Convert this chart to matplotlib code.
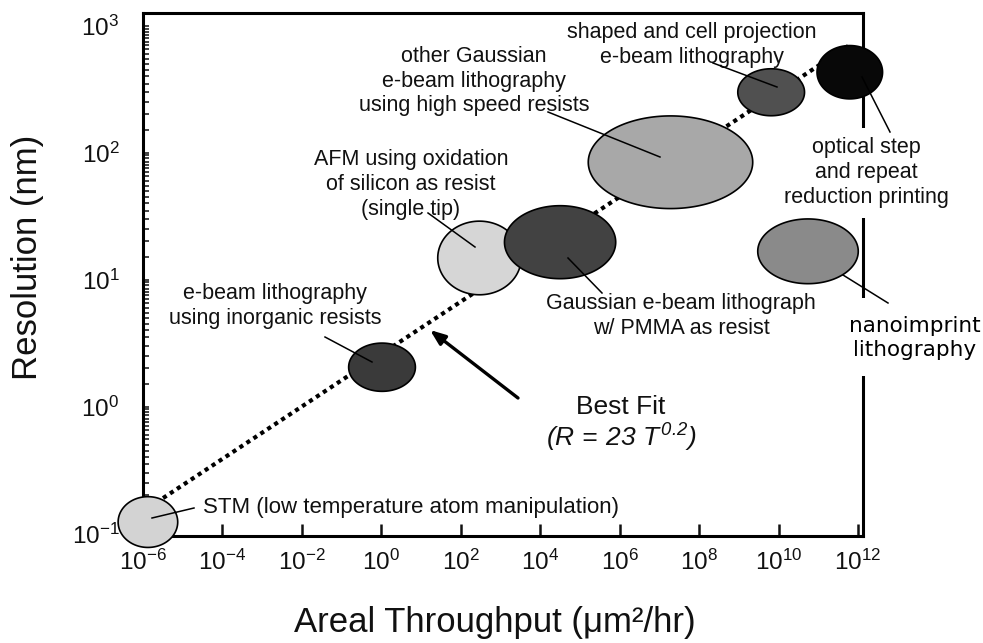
import numpy as np
import matplotlib.pyplot as plt
from matplotlib.ticker import LogLocator, NullLocator, NullFormatter
from matplotlib.lines import Line2D
from matplotlib.patches import Rectangle

plt.rcParams['font.family'] = ['Liberation Sans', 'DejaVu Sans']
plt.rcParams['mathtext.fontset'] = 'custom'
plt.rcParams['mathtext.rm'] = 'Liberation Sans'
plt.rcParams['mathtext.it'] = 'Liberation Sans:italic'
plt.rcParams['mathtext.sf'] = 'Liberation Sans:italic'
plt.rcParams['mathtext.bf'] = 'Liberation Sans:bold'

# lithography techniques: centre of each blob and its extent in decades
techniques = ['STM', 'e-beam inorganic', 'AFM oxidation', 'Gaussian PMMA',
              'other Gaussian', 'shaped/cell projection', 'optical step+repeat',
              'nanoimprint']
throughput = [1.33e-6, 1.04, 2.95e2, 3.16e4, 1.9e7, 6.5e9, 6.2e11, 5.5e10]   # um^2/hr
resolution = [0.123, 2.04, 14.8, 19.7, 84.0, 299.0, 430.0, 16.7]          # nm
thr_decades = [1.5, 1.68, 2.1, 2.8, 4.14, 1.68, 1.65, 2.53]
res_decades = [0.40, 0.38, 0.58, 0.575, 0.73, 0.37, 0.42, 0.51]
greys = ['#d3d3d3', '#3a3a3a', '#d6d6d6', '#424242', '#a8a8a8', '#505050',
         '#080808', '#8a8a8a']

# best fit line end points
fit_throughput = [3.2e-6, 6.0e11]
fit_resolution = [0.19, 700.0]

x_ticks = [1e-6, 1e-4, 1e-2, 1e0, 1e2, 1e4, 1e6, 1e8, 1e10, 1e12]

W, H = 983, 643
fig = plt.figure(figsize=(W / 100, H / 100), dpi=100)
fig.patch.set_facecolor('white')
ax = fig.add_axes([143 / W, 1 - 536 / H, (863 - 143) / W, (536 - 13) / H])
ax.set_xscale('log')
ax.set_yscale('log')
ax.set_xlim(10 ** -5.925, 10 ** 12.125)
ax.set_ylim(10 ** -1.02, 10 ** 3.1)


def fp(x, y):
    # pixel position in the picture -> figure fraction
    return (x / W, 1 - y / H)


# dotted best fit
ax.plot(fit_throughput, fit_resolution, color='black', lw=3.0,
        linestyle=(0, (1, 1)), dash_capstyle='butt', zorder=2)

# blobs, drawn as ellipses in log-log space
t = np.linspace(0, 2 * np.pi, 240)
for x, y, wx, hy, c in zip(throughput, resolution, thr_decades, res_decades, greys):
    ex = 10 ** (np.log10(x) + wx / 2 * np.cos(t))
    ey = 10 ** (np.log10(y) + hy / 2 * np.sin(t))
    ax.fill(ex, ey, fc=c, ec='black', lw=1.2, zorder=3, clip_on=False)

# axes styling
for s in ax.spines.values():
    s.set_linewidth(2.2)
ax.set_xticks(x_ticks)
ax.xaxis.set_minor_locator(NullLocator())
ax.yaxis.set_major_locator(LogLocator(base=10, numticks=10))
ax.yaxis.set_minor_locator(LogLocator(base=10, subs=np.arange(1.5, 10, 0.5), numticks=20))
ax.yaxis.set_minor_formatter(NullFormatter())
ax.tick_params(axis='x', which='major', direction='in', length=9, width=1.8,
               labelsize=17.5, pad=10, colors='#111111', top=False)
ax.tick_params(axis='y', which='both', direction='in', length=4, width=1.1,
               labelsize=17.5, pad=17, colors='#111111', right=False)

# axis titles
fig.text(*fp(495, 632), 'Areal Throughput (μm²/hr)', fontsize=25,
         ha='center', va='baseline', color='#111111')
fig.text(*fp(28, 257), 'Resolution (nm)', fontsize=25, rotation=90,
         ha='center', va='center', color='#111111')

tk = dict(fontsize=15.5, ha='center', va='center', color='#111111',
          linespacing=1.25, multialignment='center')

fig.text(*fp(474, 81), 'other Gaussian\ne-beam lithography\nusing high speed resists', **tk)
fig.text(*fp(411, 184), 'AFM using oxidation\nof silicon as resist\n(single tip)', **tk)
fig.text(*fp(275, 306), 'e-beam lithography\nusing inorganic resists', **tk)
fig.text(*fp(681, 316), 'Gaussian e-beam lithograph\nw/ PMMA as resist', **tk)
fig.text(*fp(692, 45), 'shaped and cell projection\ne-beam lithography', **tk)
fig.text(*fp(866, 173), 'optical step\nand repeat\nreduction printing', zorder=4,
         bbox=dict(boxstyle='square,pad=0.45', fc='white', ec='none'), **tk)
fig.text(*fp(203, 508), 'STM (low temperature atom manipulation)', fontsize=16,
         ha='left', va='center', color='#111111')

# nanoimprint label pasted on a white patch
fig.add_artist(Rectangle(fp(822, 376), (983 - 822) / W, (376 - 298) / H,
                         transform=fig.transFigure, fc='white', ec='none', zorder=3))
fig.text(*fp(915, 338), 'nanoimprint\nlithography', fontsize=15.5, family='DejaVu Sans',
         ha='center', va='center', color='black', linespacing=1.2, zorder=4)

fig.text(*fp(621, 407), 'Best Fit', fontsize=19, ha='center', va='center', color='#111111')
fig.text(*fp(621, 438), r'$\mathsf{(R\,=\,23\ T^{\,0.2})}$', fontsize=19,
         ha='center', va='center', color='#111111')

# leader lines
leaders = [
    ((548, 112), (660, 157)),
    ((428, 213), (475, 247)),
    ((325, 337), (372, 362)),
    ((568, 258), (602, 293)),
    ((713, 63), (777, 87)),
    ((862, 77), (890, 132)),
    ((843, 275), (888, 303)),
    ((194, 508), (152, 518)),
]
for (x1, y1), (x2, y2) in leaders:
    a, b = fp(x1, y1), fp(x2, y2)
    fig.add_artist(Line2D([a[0], b[0]], [a[1], b[1]], transform=fig.transFigure,
                          color='black', lw=1.1, zorder=5))

# best fit arrow
ax.annotate('', xy=fp(430, 330), xycoords='figure fraction',
            xytext=fp(518, 398), textcoords='figure fraction',
            arrowprops=dict(arrowstyle='-|>,head_length=0.9,head_width=0.35',
                            lw=2.4, color='black', shrinkA=0, shrinkB=0))

fig.savefig('out.png', dpi=100, facecolor='white')
